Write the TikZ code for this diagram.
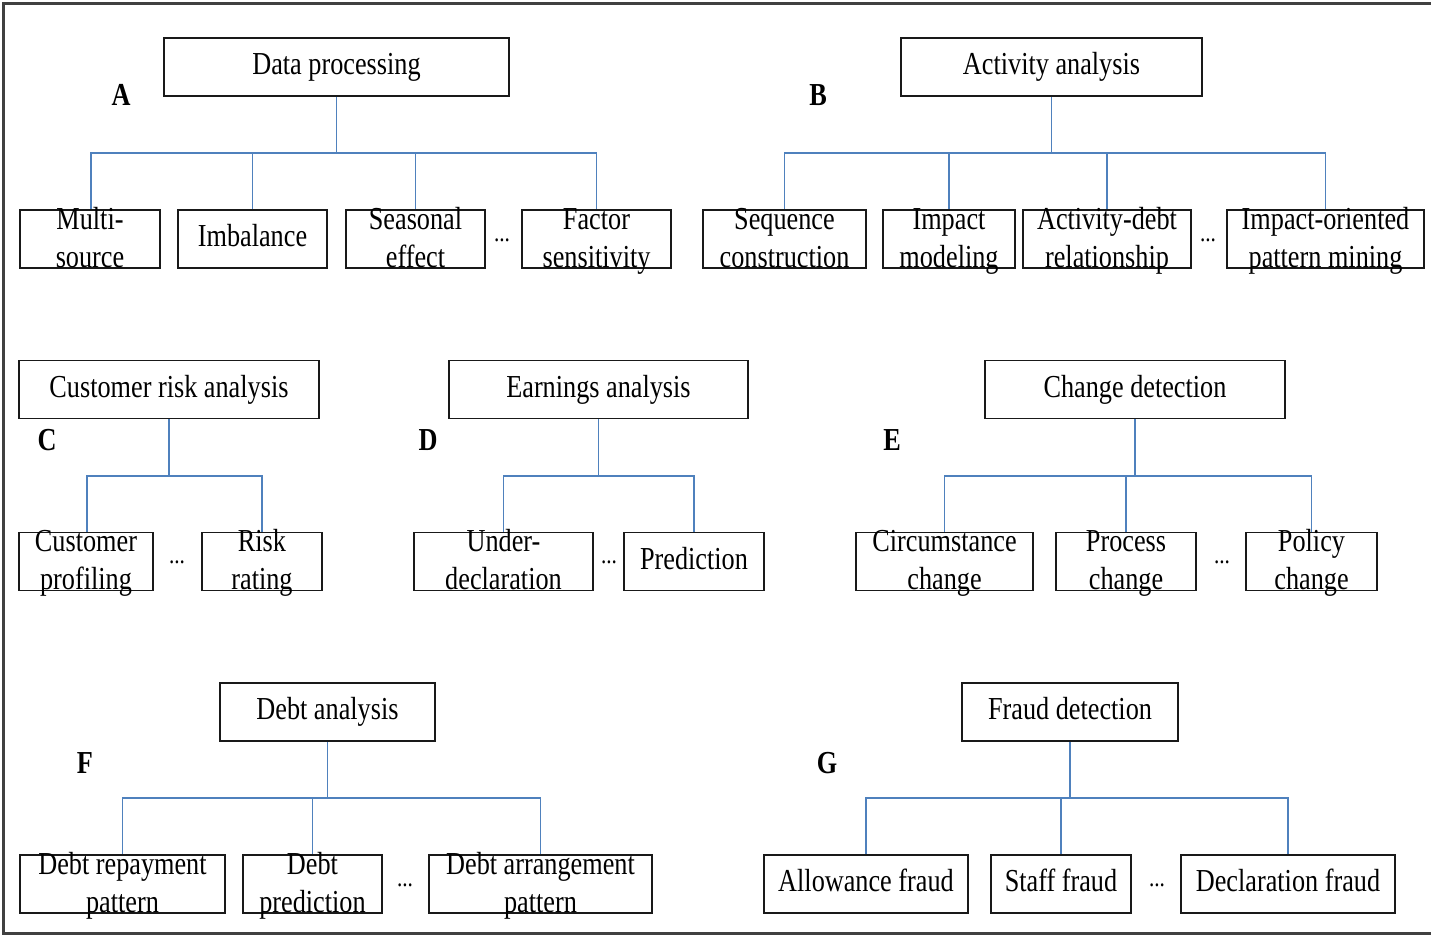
\documentclass[tikz,border=0pt]{standalone}
\usepackage{fontspec}
\setmainfont{Liberation Serif}[FakeStretch=0.82]
\usepackage{xcolor}
\definecolor{linkblue}{RGB}{79,129,189}

% two lines that may stick out of their box
\newcommand{\duo}[2]{\raisebox{17.5pt}[0pt][0pt]{\begin{tabular}[t]{@{}c@{}}#1\\#2\end{tabular}}}

\tikzset{
  box/.style={draw=black!90, line width=1.8pt, inner sep=0pt, minimum height=58pt,
    text height=22pt, text depth=7pt, font=\fontsize{32}{38}\selectfont},
  link/.style={draw=linkblue, line width=1.6pt},
  tag/.style={font=\fontsize{32}{38}\selectfont\bfseries},
  gap/.style={font=\fontsize{26}{30}\selectfont},
}

\begin{document}
\begin{tikzpicture}[x=1pt, y=-1pt]
  \useasboundingbox (0,0) rectangle (1431,937);
  % outer frame, open on the right
  \draw[black!75, line width=3pt] (1431,3) -- (3,3) -- (3,933) -- (1431,933);

  % A: data processing
  \node[box, minimum width=345pt] (dp) at (336.5,67) {Data processing};
  \node[tag] (la) at (121,95) {A};
  \node[box, minimum width=140pt] (dp1) at (90,239) {\duo{Multi-}{source}};
  \node[box, minimum width=149pt] (dp2) at (252.5,239) {Imbalance};
  \node[box, minimum width=139pt] (dp3) at (415.5,239) {\duo{Seasonal}{effect}};
  \node[gap] (dpg) at (502,240) {...};
  \node[box, minimum width=149pt] (dp4) at (596.5,239) {\duo{Factor}{sensitivity}};
  \coordinate (busa) at (336.5,153);
  \draw[link] (dp.south) -- (busa);
  \draw[link] ([xshift=1pt]dp1.north) |- (busa);
  \draw[link] (dp2.north) |- (busa);
  \draw[link] (dp3.north) |- (busa);
  \draw[link] (dp4.north) |- (busa);

  % B: activity analysis
  \node[box, minimum width=301pt] (aa) at (1051.5,67) {Activity analysis};
  \node[tag] (lb) at (818,95) {B};
  \node[box, minimum width=163pt] (aa1) at (784.5,239) {\duo{Sequence}{construction}};
  \node[box, minimum width=132pt] (aa2) at (949,239) {\duo{Impact}{modeling}};
  \node[box, minimum width=168pt] (aa3) at (1107,239) {\duo{Activity-debt}{relationship}};
  \node[gap] (aag) at (1208,240) {...};
  \node[box, minimum width=197pt] (aa4) at (1325.5,239) {\duo{Impact-oriented}{pattern mining}};
  \coordinate (busb) at (1051.5,153);
  \draw[link] (aa.south) -- (busb);
  \draw[link] (aa1.north) |- (busb);
  \draw[link] (aa2.north) |- (busb);
  \draw[link] (aa3.north) |- (busb);
  \draw[link] (aa4.north) |- (busb);

  % C: customer risk analysis
  \node[box, minimum width=300pt] (cra) at (169,389.5) {Customer risk analysis};
  \node[tag] (lc) at (47,440) {C};
  \node[box, minimum width=134pt] (cra1) at (86,561.5) {\duo{Customer}{profiling}};
  \node[gap] (crag) at (177,562) {...};
  \node[box, minimum width=120pt] (cra2) at (262,561.5) {\duo{Risk}{rating}};
  \coordinate (busc) at (169,476);
  \draw[link] (cra.south) -- (busc);
  \draw[link] ([xshift=1pt]cra1.north) |- (busc);
  \draw[link] (cra2.north) |- (busc);

  % D: earnings analysis
  \node[box, minimum width=299pt] (ea) at (598.5,389.5) {Earnings analysis};
  \node[tag] (ld) at (428,440) {D};
  \node[box, minimum width=179pt] (ea1) at (503.5,561.5) {\duo{Under-}{declaration}};
  \node[gap] (eag) at (609,562) {...};
  \node[box, minimum width=140pt] (ea2) at (694,561.5) {Prediction};
  \coordinate (busd) at (598.5,476);
  \draw[link] (ea.south) -- (busd);
  \draw[link] (ea1.north) |- (busd);
  \draw[link] (ea2.north) |- (busd);

  % E: change detection
  \node[box, minimum width=300pt] (cd) at (1135,389.5) {Change detection};
  \node[tag] (le) at (892,440) {E};
  \node[box, minimum width=177pt] (cd1) at (944.5,561.5) {\duo{Circumstance}{change}};
  \node[box, minimum width=140pt] (cd2) at (1126,561.5) {\duo{Process}{change}};
  \node[gap] (cdg) at (1222,562) {...};
  \node[box, minimum width=131pt] (cd3) at (1311.5,561.5) {\duo{Policy}{change}};
  \coordinate (buse) at (1135,476);
  \draw[link] (cd.south) -- (buse);
  \draw[link] (cd1.north) |- (buse);
  \draw[link] (cd2.north) |- (buse);
  \draw[link] (cd3.north) |- (buse);

  % F: debt analysis
  \node[box, minimum width=215pt] (da) at (327.5,712) {Debt analysis};
  \node[tag] (lf) at (85,763) {F};
  \node[box, minimum width=205pt] (da1) at (122.5,884) {\duo{Debt repayment}{pattern}};
  \node[box, minimum width=139pt] (da2) at (312.5,884) {\duo{Debt}{prediction}};
  \node[gap] (dag) at (405,885) {...};
  \node[box, minimum width=223pt] (da3) at (540.5,884) {\duo{Debt arrangement}{pattern}};
  \coordinate (busf) at (327.5,798);
  \draw[link] (da.south) -- (busf);
  \draw[link] (da1.north) |- (busf);
  \draw[link] (da2.north) |- (busf);
  \draw[link] (da3.north) |- (busf);

  % G: fraud detection
  \node[box, minimum width=216pt] (fd) at (1070,712) {Fraud detection};
  \node[tag] (lg) at (827,763) {G};
  \node[box, minimum width=204pt] (fd1) at (866,884) {Allowance fraud};
  \node[box, minimum width=140pt] (fd2) at (1061,884) {Staff fraud};
  \node[gap] (fdg) at (1157,885) {...};
  \node[box, minimum width=214pt] (fd3) at (1288,884) {Declaration fraud};
  \coordinate (busg) at (1070,798);
  \draw[link] (fd.south) -- (busg);
  \draw[link] (fd1.north) |- (busg);
  \draw[link] (fd2.north) |- (busg);
  \draw[link] (fd3.north) |- (busg);
\end{tikzpicture}
\end{document}
